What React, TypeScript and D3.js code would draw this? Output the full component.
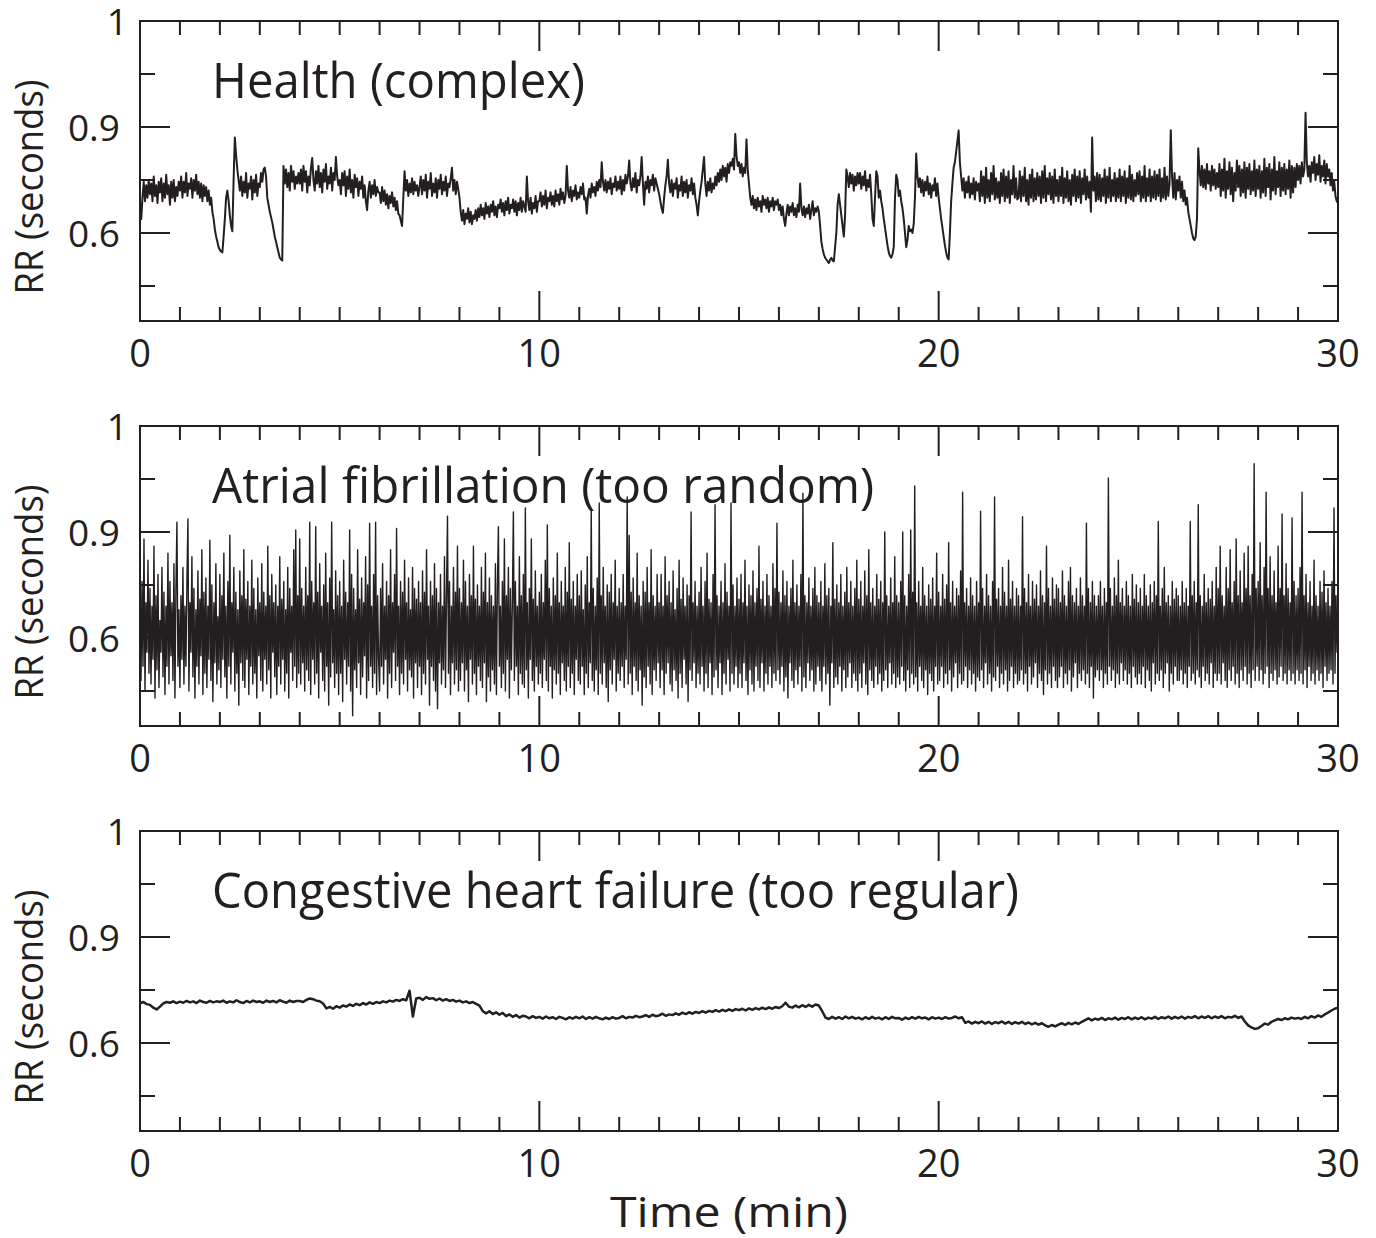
import React from "react";
import * as d3 from "d3";

// RR intervals in milliseconds, uniformly sampled over 0–30 min
// Healthy subject: 32 samples per minute
const healthRR = [
  690,640,700,745,690,735,700,750,710,740,690,760,705,735,685,745,715,755,690,740,700,765,710,735,680,745,700,750,690,730,705,745,
  720,760,700,745,715,770,705,740,725,755,700,750,720,765,710,745,700,740,690,735,705,730,690,720,680,700,660,640,610,590,575,560,
  552,548,545,590,640,700,720,690,650,620,605,750,870,820,780,750,720,760,705,745,715,770,700,740,725,760,695,750,715,765,705,740,
  730,770,745,780,785,760,700,680,660,645,630,610,590,575,560,545,530,525,522,790,740,780,730,770,720,790,745,775,725,760,740,770,
  740,780,720,790,745,775,715,760,735,785,812,750,720,775,740,790,730,770,715,780,745,795,725,760,740,785,720,770,750,815,760,735,
  750,710,770,735,775,705,760,725,780,715,750,700,765,730,755,705,745,725,760,700,735,690,665,720,745,700,735,710,750,705,730,715,
  715,685,730,690,720,680,710,670,705,685,715,675,700,665,690,655,650,635,620,700,775,720,750,705,740,715,755,710,745,720,735,705,
  730,760,710,750,720,765,700,745,725,770,705,740,715,755,700,750,725,765,710,745,720,760,705,740,730,755,785,720,750,710,745,725,
  700,660,635,665,625,655,640,670,630,660,625,650,640,665,635,670,645,680,650,670,640,685,655,675,645,680,660,690,650,675,645,680,
  670,695,660,685,650,690,665,700,655,680,670,695,660,690,650,685,665,700,660,690,675,660,760,690,665,700,655,685,670,705,660,690,
  690,715,675,705,680,720,670,700,690,715,680,705,675,720,690,710,680,725,695,715,685,705,790,720,700,730,690,720,705,735,695,715,
  700,730,710,740,695,700,655,705,725,700,740,715,730,705,745,720,750,730,800,745,720,750,715,745,725,755,710,740,730,760,720,745,
  725,760,710,750,720,765,740,760,805,740,720,755,730,770,715,750,735,760,815,740,680,745,725,760,715,750,735,765,720,755,740,725,
  710,690,670,657,700,735,760,807,740,715,750,705,740,725,755,700,735,720,760,705,745,715,750,700,735,720,755,710,740,700,680,650,
  690,720,745,780,815,740,705,745,720,755,715,740,725,760,735,770,745,780,750,790,760,785,745,795,770,800,790,810,780,880,820,790,
  800,770,795,760,785,770,865,780,740,700,680,705,670,695,665,700,675,690,660,705,680,695,670,700,660,690,675,700,665,690,680,695,
  665,680,650,675,640,620,655,680,650,675,660,685,650,670,645,680,660,740,670,650,675,645,670,655,680,640,665,690,650,670,660,675,
  660,620,575,555,540,530,525,520,515,525,530,522,520,560,600,680,710,680,650,620,590,650,780,760,730,770,740,765,720,760,735,770,
  740,770,725,760,735,775,720,750,730,765,710,640,620,700,775,760,700,720,690,670,640,615,590,565,545,535,530,540,560,700,765,750,
  705,720,690,670,640,600,560,580,620,605,610,600,625,700,825,760,730,755,715,750,705,745,720,760,710,740,700,735,720,755,705,740,
  700,670,640,615,590,565,545,530,525,600,690,740,785,800,830,860,890,800,760,720,755,700,745,715,760,700,740,710,755,695,745,720,
  740,690,775,705,760,685,785,700,750,690,770,710,790,695,755,700,745,685,770,705,780,690,760,700,775,685,750,710,790,700,755,695,
  700,775,690,760,705,785,690,750,680,765,700,780,690,755,695,770,705,760,685,775,700,790,690,755,710,770,695,760,685,780,705,750,
  690,760,705,785,685,755,700,775,690,750,680,765,705,780,690,760,700,775,685,755,710,780,695,760,700,745,660,870,720,760,690,770,
  695,765,690,755,705,780,685,760,700,785,690,750,705,770,690,755,700,780,690,760,705,775,685,755,700,790,695,765,690,750,705,770,
  710,775,690,760,700,790,690,755,705,780,690,760,700,775,695,765,705,780,690,755,700,785,695,760,705,740,891,760,700,770,695,750,
  720,760,700,745,690,720,680,700,660,640,620,600,585,580,590,640,840,780,735,790,730,780,725,795,740,775,720,790,735,780,725,770,
  730,795,705,780,720,810,700,775,725,800,710,785,690,770,720,805,730,790,705,780,715,800,700,785,725,795,710,775,720,805,705,780,
  725,790,700,775,715,810,705,785,730,795,695,780,720,815,710,775,730,800,705,785,720,795,710,780,725,805,700,790,715,785,730,795,
  750,790,740,800,760,780,940,800,760,790,745,800,770,815,750,795,765,820,745,790,760,805,740,795,760,780,735,770,720,745,705,690,
  685,
];

// Atrial fibrillation: 40 samples per minute
const afRR = [
  640,480,760,520,880,450,700,560, 820,500,740,470,690,540,860,430, 720,510,780,460,650,560,800,490, 730,440,690,520,840,470,760,550, 700,480,810,430,740,928,520,680,
  460,720,540,800,470,690,520,760, 937,450,700,560,830,490,740,430, 680,520,790,470,710,550,850,440, 730,500,770,460,690,540,877,480, 750,420,700,530,810,470,660,510,
  780,460,720,540,840,490,690,430, 760,520,891,470,700,560,800,450, 730,500,680,410,790,530,720,480, 850,460,710,540,760,440,690,520, 820,470,740,500,680,430,770,550,
  700,480,810,450,730,540,690,470, 860,510,720,430,780,560,700,490, 750,440,690,520,830,470,710,540, 760,450,680,500,800,430,740,560, 690,480,850,520,906,460,720,500,
  880,470,740,530,690,450,800,510, 720,480,928,440,760,540,700,470, 915,500,730,430,810,560,690,480, 750,450,840,520,700,410,770,490, 928,530,680,460,790,500,720,440,
  760,500,690,420,820,540,730,470, 700,520,906,450,780,380,740,510, 680,460,850,530,710,440,770,490, 700,550,830,430,750,480,925,520, 690,460,780,500,928,440,720,540,
  450,740,520,810,470,690,540,760, 430,720,500,850,460,700,560,780, 480,910,520,690,440,760,500,730, 470,820,540,700,450,770,510,680, 490,800,430,740,530,710,460,760,
  520,700,440,790,500,730,470,850, 540,690,410,760,520,720,480,810, 450,740,400,700,530,780,470,690, 510,830,460,720,945,500,760,440, 690,530,800,470,730,510,860,450,
  740,480,700,530,820,450,760,510, 690,420,780,540,720,470,860,500, 710,440,750,520,690,480,800,460, 730,530,840,420,700,490,770,450, 720,510,690,470,810,440,750,915,
  520,690,460,760,500,880,450,720, 540,800,430,740,510,700,957,480, 760,520,690,440,830,500,720,470, 780,460,968,510,700,430,740,540, 880,480,710,450,790,520,690,470,
  730,500,780,460,700,540,820,480, 920,450,740,520,690,430,770,510, 720,470,840,500,700,440,760,530, 690,480,800,450,730,520,870,460, 710,500,760,440,690,540,780,480,
  720,470,790,520,680,440,750,500, 830,460,700,530,962,480,740,450, 690,510,770,440,982,500,720,470, 800,530,690,460,750,420,730,510, 780,470,700,540,820,450,690,500,
  740,480,700,520,780,460,690,540, 999,470,890,500,730,440,770,520, 700,480,840,450,720,510,690,410, 760,490,730,460,800,520,700,470, 850,440,720,510,690,480,780,530,
  700,460,780,510,690,440,830,500, 720,530,760,470,700,450,790,510, 680,480,740,430,820,500,710,460, 770,540,690,470,750,420,720,510, 957,480,700,530,760,460,690,500,
  730,470,800,520,690,450,760,500, 840,460,710,530,700,440,780,490, 977,510,720,460,690,530,760,440, 700,500,810,470,730,540,690,450, 982,500,750,470,690,520,770,460,
  710,500,780,460,700,530,820,480, 690,440,750,510,720,470,790,450, 700,520,740,480,860,460,710,530, 760,450,690,500,780,470,720,520, 690,460,810,500,740,480,925,510,
  730,470,700,520,790,450,720,490, 760,430,690,530,740,480,820,460, 700,510,750,470,690,520,780,450, 1010,490,720,460,700,530,770,480, 690,510,740,450,800,470,720,520,
  700,480,760,450,690,520,810,470, 720,500,740,410,690,530,870,460, 710,490,750,470,700,520,780,450, 690,510,730,460,800,490,700,530, 760,460,690,500,740,480,820,450,
  710,500,760,460,690,530,790,470, 720,440,850,510,700,480,740,460, 690,520,780,470,710,500,760,450, 700,480,900,510,720,460,690,530, 770,470,700,500,830,460,720,490,
  700,470,760,520,900,480,720,450, 690,510,780,460,906,500,730,470, 1030,490,700,450,760,520,690,480, 800,460,720,510,690,440,750,500, 710,480,770,450,690,520,840,470,
  730,480,690,520,780,460,710,500, 750,470,870,510,700,450,760,490, 690,530,740,460,720,500,790,470, 1013,480,700,520,740,460,690,510, 770,470,720,500,690,450,760,490,
  700,480,959,510,740,460,690,530, 780,470,720,500,690,450,760,490, 999,480,710,520,740,460,690,500, 800,470,730,510,690,450,820,480, 710,520,760,460,690,500,740,470,
  720,480,690,510,943,470,740,500, 700,450,780,520,690,470,760,490, 710,530,750,460,690,500,790,480, 720,440,700,510,860,470,740,500, 690,460,770,520,710,480,750,460,
  740,490,700,520,790,460,720,500, 690,470,760,510,800,450,720,490, 700,530,740,460,690,500,770,480, 720,510,690,470,925,500,740,460, 700,520,760,430,720,490,690,510,
  720,480,760,510,690,460,740,500, 700,470,1053,520,740,480,690,510, 770,460,720,500,820,470,700,530, 740,480,690,510,760,470,720,500, 690,460,780,520,710,490,750,470,
  700,500,740,470,690,520,780,460, 720,510,690,480,750,450,700,530, 760,470,720,500,930,480,690,510, 740,460,800,500,700,530,720,450, 690,500,760,470,710,520,740,480,
  720,480,690,510,760,470,700,500, 740,460,690,520,930,480,720,500, 760,470,700,510,977,490,720,460, 690,520,780,480,700,500,740,470, 710,530,760,460,690,500,800,480,
  740,500,860,470,720,530,690,480, 800,460,740,510,850,480,700,520, 760,470,880,500,720,460,790,510, 700,480,840,520,740,470,860,500, 720,460,780,510,1093,480,740,520,
  760,480,870,510,720,470,800,500, 1013,520,740,460,830,500,720,480, 790,510,700,470,860,490,740,520, 951,480,720,500,810,470,740,510, 700,480,940,500,760,470,720,510,
  740,480,800,500,1013,470,720,510, 780,460,700,520,760,480,690,500, 820,470,720,510,690,480,760,500, 730,460,790,520,700,480,740,500, 690,510,760,470,968,500,720,560,
  600,
];

// Congestive heart failure: 12 samples per minute
const chfRR = [
  712,716,710,708,700,695,703,712,716,714,718,713,
  717,714,719,715,718,713,720,716,714,719,715,718,
  716,720,714,718,715,721,716,713,719,715,720,716,
  718,714,720,716,719,715,721,717,714,720,716,719,
  719,716,722,726,724,720,718,712,698,702,697,704,
  700,706,703,709,705,711,707,713,709,715,711,716,
  713,718,715,720,717,722,719,724,721,748,675,726,
  728,722,730,725,727,721,726,720,724,719,722,717,
  720,715,718,713,716,711,706,690,684,690,682,687,
  680,685,676,681,674,679,672,677,675,670,676,671,
  674,669,675,670,673,668,674,671,667,673,669,674,
  670,675,668,673,669,674,670,667,672,668,673,669,
  671,676,670,674,672,677,673,675,679,674,680,676,
  678,683,677,681,679,684,680,686,682,687,683,688,
  685,690,686,691,688,693,689,694,690,695,691,696,
  693,697,692,698,694,699,695,700,696,701,697,702,
  699,704,714,703,700,706,701,707,702,708,703,709,
  706,690,672,668,674,669,673,668,675,670,674,669,
  672,667,673,668,674,669,672,667,673,668,674,670,
  671,666,672,668,673,669,674,670,672,667,673,669,
  672,668,673,669,671,675,670,673,657,661,655,660,
  656,661,655,660,654,659,656,661,655,660,654,659,
  655,660,654,658,653,657,652,656,650,646,651,647,
  652,656,651,657,653,658,654,660,665,670,664,669,
  666,671,665,670,667,672,666,671,668,673,667,672,
  668,673,667,672,669,674,668,673,670,675,669,674,
  670,675,669,674,671,676,670,675,671,676,670,675,
  671,676,670,674,672,677,671,675,661,650,644,640,
  642,648,655,652,660,664,668,665,670,667,672,669,
  671,668,674,670,676,672,678,674,681,686,692,697,
  700,
];

const panelTitles = [
  "Health (complex)",
  "Atrial fibrillation (too random)",
  "Congestive heart failure (too regular)",
];
const yTickValues = [1.2, 0.9, 0.6];
const yTickLabels = ["1", "0.9", "0.6"];
const yMinorValues = [1.05, 0.75, 0.45];
const xMajorTicks = [0, 10, 20, 30];
const xLabelText = "Time (min)";
const yLabelText = "RR (seconds)";
const timeSpanMin = 30;

const W = 1376;
const H = 1238;
const LEFT = 140;
const RIGHT = 1338;
const PANEL_H = 300;
const panelTops = [21, 426, 831];
const titleLengths = [373, 662, 807];
const lineWidths = [2.0, 1.4, 2.5];
const INK = "#231f20";
const FONT = "'Open Sans', 'Noto Sans', sans-serif";

const x = d3.scaleLinear().domain([0, timeSpanMin]).range([LEFT, RIGHT]);
const y = d3.scaleLinear().domain([0.351, 1.2]).range([PANEL_H, 0]);

const xMinorTicks = d3.range(1, timeSpanMin).filter((t) => !xMajorTicks.includes(t));

function Panel({ top, values, title, titleLength, lw }: any) {
  const n = values.length;
  const line = d3
    .line<number>()
    .x((_, i) => x((i * timeSpanMin) / (n - 1)))
    .y((d) => y(d / 1000));
  return (
    <g transform={`translate(0,${top})`}>
      <path d={line(values) || ""} fill="none" stroke={INK} strokeWidth={lw} strokeLinejoin="round" />
      <rect x={LEFT} y={0} width={RIGHT - LEFT} height={PANEL_H} fill="none" stroke={INK} strokeWidth={2} />
      {xMinorTicks.map((t) => (
        <g key={"xm" + t}>
          <line x1={x(t)} x2={x(t)} y1={PANEL_H} y2={PANEL_H - 14} stroke={INK} strokeWidth={2} />
          <line x1={x(t)} x2={x(t)} y1={0} y2={14} stroke={INK} strokeWidth={2} />
        </g>
      ))}
      {xMajorTicks.slice(1, -1).map((t) => (
        <g key={"xM" + t}>
          <line x1={x(t)} x2={x(t)} y1={PANEL_H} y2={PANEL_H - 30} stroke={INK} strokeWidth={2} />
          <line x1={x(t)} x2={x(t)} y1={0} y2={30} stroke={INK} strokeWidth={2} />
        </g>
      ))}
      {yTickValues.slice(1).map((v) => (
        <g key={"yM" + v}>
          <line x1={LEFT} x2={LEFT + 30} y1={y(v)} y2={y(v)} stroke={INK} strokeWidth={2} />
          <line x1={RIGHT} x2={RIGHT - 30} y1={y(v)} y2={y(v)} stroke={INK} strokeWidth={2} />
        </g>
      ))}
      {yMinorValues.map((v) => (
        <g key={"ym" + v}>
          <line x1={LEFT} x2={LEFT + 15} y1={y(v)} y2={y(v)} stroke={INK} strokeWidth={2} />
          <line x1={RIGHT} x2={RIGHT - 15} y1={y(v)} y2={y(v)} stroke={INK} strokeWidth={2} />
        </g>
      ))}
      {xMajorTicks.map((t) => (
        <text key={"xl" + t} x={x(t)} y={PANEL_H + 46} textAnchor="middle" fontSize={38} fill={INK} fontFamily={FONT}>
          {t}
        </text>
      ))}
      {yTickValues.map((v, i) => (
        <text
          key={"yl" + v}
          x={yTickLabels[i].length === 1 ? 128 : 120}
          y={y(v) + 14}
          textAnchor="end"
          fontSize={37}
          fill={INK}
          fontFamily={FONT}
        >
          {yTickLabels[i]}
        </text>
      ))}
      <text
        transform={`translate(43,${166}) rotate(-90)`}
        textAnchor="middle"
        fontSize={38}
        fill={INK}
        fontFamily={FONT}
        textLength={215}
        lengthAdjust="spacingAndGlyphs"
      >
        {yLabelText}
      </text>
      <text
        x={212}
        y={77}
        fontSize={50}
        fill={INK}
        fontFamily={FONT}
        textLength={titleLength}
        lengthAdjust="spacingAndGlyphs"
      >
        {title}
      </text>
    </g>
  );
}

export default function App() {
  const series = [healthRR, afRR, chfRR];
  return (
    <svg
      width={W}
      height={H}
      viewBox={`0 0 ${W} ${H}`}
      style={{ position: "absolute", left: 0, top: 0, background: "#fff" }}
    >
      <rect x={0} y={0} width={W} height={H} fill="#fff" />
      {series.map((vals, i) => (
        <Panel
          key={i}
          top={panelTops[i]}
          values={vals}
          title={panelTitles[i]}
          titleLength={titleLengths[i]}
          lw={lineWidths[i]}
        />
      ))}
      <text
        x={729}
        y={1227}
        textAnchor="middle"
        fontSize={42}
        fill={INK}
        fontFamily={FONT}
        textLength={238}
        lengthAdjust="spacingAndGlyphs"
      >
        {xLabelText}
      </text>
    </svg>
  );
}
